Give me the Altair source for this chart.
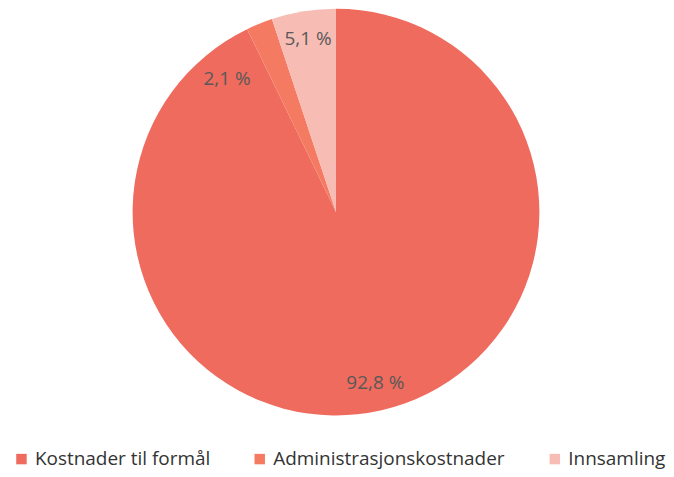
import altair as alt
import pandas as pd

categories = ["Kostnader til formål", "Administrasjonskostnader", "Innsamling"]
values = [92.8, 2.1, 5.1]
labels = ["92,8 %", "2,1 %", "5,1 %"]
colors = ["#EE6B5D", "#F47B62", "#F7BDB5"]

df = pd.DataFrame({"kategori": categories, "verdi": values, "etikett": labels,
                   "rekkefolge": list(range(len(categories)))})

theta_scale = alt.Scale(domain=[0, 100])

arc = alt.Chart(df).mark_arc(outerRadius=204).encode(
    theta=alt.Theta("verdi:Q", stack=True, scale=theta_scale),
    order=alt.Order("rekkefolge:Q"),
    color=alt.Color(
        "kategori:N",
        scale=alt.Scale(domain=categories, range=colors),
        sort=categories,
        legend=alt.Legend(
            title=None, orient="none", direction="horizontal", columns=3,
            legendX=4, legendY=440, symbolType="square", symbolSize=110,
            symbolStrokeWidth=0, labelFontSize=19, labelFont="Open Sans",
            labelColor="#333333", columnPadding=40, labelOffset=4, labelLimit=0,
            padding=0, rowPadding=0,
        ),
    ),
)

lab_base = alt.Chart(df).transform_window(
    kum="sum(verdi)", sort=[alt.SortField("rekkefolge")]
).transform_calculate(
    midt="datum.kum - datum.verdi / 2"
).encode(
    theta=alt.Theta("midt:Q", stack=None, scale=theta_scale),
    text="etikett:N",
)

txt_main = lab_base.transform_filter(
    alt.datum.kategori != "Administrasjonskostnader"
).mark_text(radius=176, fontSize=19, font="Open Sans", color="#595959")

txt_adm = lab_base.transform_filter(
    alt.datum.kategori == "Administrasjonskostnader"
).mark_text(radius=176, fontSize=19, font="Open Sans", color="#595959", dx=-43, dy=30)

chart = alt.layer(arc, txt_main, txt_adm).properties(
    width=658, height=404, padding=0
).configure_view(stroke=None)

chart.save("out.html", embed_options={"renderer": "svg", "actions": False})
